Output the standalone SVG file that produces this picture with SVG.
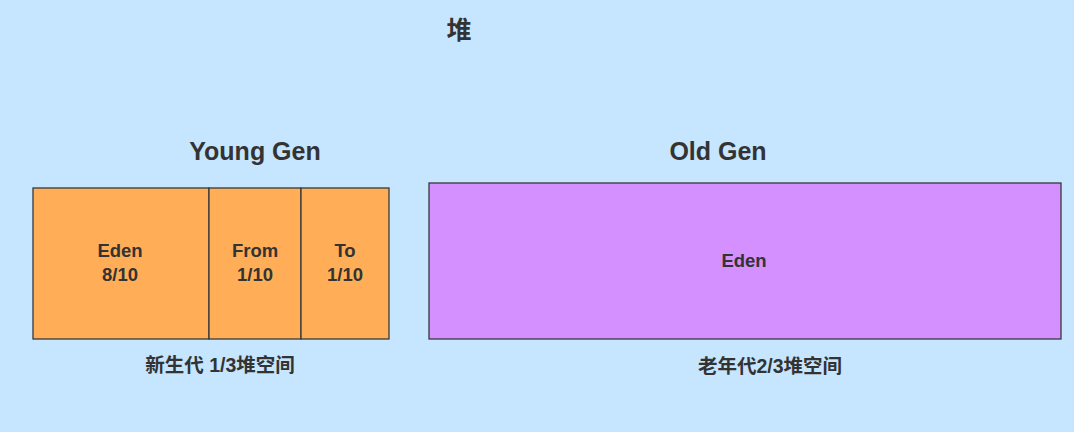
<svg xmlns="http://www.w3.org/2000/svg" width="1074" height="432" viewBox="0 0 1074 432">
<style>
.t{font-family:"Liberation Sans","Noto Sans CJK SC",sans-serif;font-weight:bold;fill:#333;text-anchor:middle}
.big{font-size:25px}
.lbl{font-size:18.5px}
.cap{font-size:19.5px}
.box{stroke:#36393d;stroke-width:1.3}
</style>
<rect x="0" y="0" width="1074" height="432" fill="#c6e5fe"/>
<text class="t" x="459" y="39" style="font-size:25px">堆</text>
<g id="young">
<text class="t big" x="255" y="160">Young Gen</text>
<g id="eden"><rect class="box" x="33" y="188" width="176" height="151" fill="#ffae57"/>
<text class="t lbl" x="120" y="257">Eden</text><text class="t lbl" x="120" y="281">8/10</text></g>
<g id="from"><rect class="box" x="209" y="188" width="92" height="151" fill="#ffae57"/>
<text class="t lbl" x="255" y="257">From</text><text class="t lbl" x="255" y="281">1/10</text></g>
<g id="to"><rect class="box" x="301" y="188" width="88" height="151" fill="#ffae57"/>
<text class="t lbl" x="345" y="257">To</text><text class="t lbl" x="345" y="281">1/10</text></g>
<text class="t cap" x="220" y="372">新生代 1/3堆空间</text>
</g>
<g id="old">
<text class="t big" x="718" y="160">Old Gen</text>
<rect class="box" x="429" y="183" width="632" height="156" fill="#d590ff"/>
<text class="t lbl" x="744" y="267">Eden</text>
<text class="t cap" x="770" y="373">老年代2/3堆空间</text>
</g>
<g id="connectors"/>
</svg>
